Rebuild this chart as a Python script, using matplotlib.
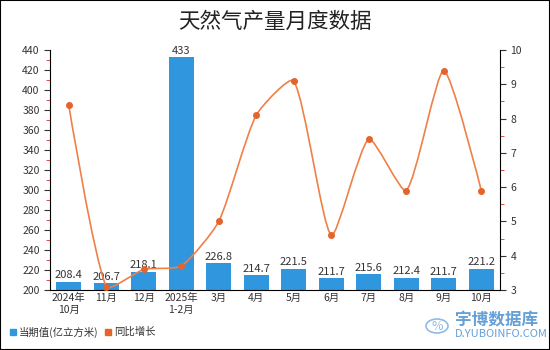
import numpy as np
from matplotlib import pyplot as plt
from matplotlib.path import Path
from matplotlib.patches import PathPatch, Rectangle
from matplotlib.ticker import MultipleLocator

plt.rcParams['font.family'] = ['Noto Sans CJK SC', 'DejaVu Sans']

months = ['2024年\n10月', '11月', '12月', '2025年\n1-2月', '3月', '4月',
          '5月', '6月', '7月', '8月', '9月', '10月']
output = [208.4, 206.7, 218.1, 433, 226.8, 214.7, 221.5, 211.7, 215.6, 212.4, 211.7, 221.2]
growth = [8.4, 3.1, 3.6, 3.7, 5.0, 8.1, 9.1, 4.6, 7.4, 5.9, 9.4, 5.9]

bar_color = '#3096de'
line_color = '#ee8048'
dot_color = '#e4642c'

def smooth_path(x, y, sx, sy, smooth=0.2):
    # bezier smoothing weighted by neighbour distances, worked out in pixel units
    pts = np.column_stack([np.asarray(x) * sx, np.asarray(y) * sy]).astype(float)
    n = len(pts)
    cin = [p.copy() for p in pts]
    cout = [p.copy() for p in pts]
    for i in range(1, n - 1):
        p, prev, nxt = pts[i], pts[i - 1], pts[i + 1]
        v = (nxt - prev) * smooth
        d0 = np.hypot(*(p - prev))
        d1 = np.hypot(*(p - nxt))
        cin[i] = p - v * d0 / (d0 + d1)
        cout[i] = p + v * d1 / (d0 + d1)
    verts = [pts[0]]
    codes = [Path.MOVETO]
    for i in range(n - 1):
        verts += [cout[i], cin[i + 1], pts[i + 1]]
        codes += [Path.CURVE4] * 3
    verts = np.array(verts) / [sx, sy]
    return Path(verts, codes)

fig = plt.figure(figsize=(5.5, 3.5), dpi=100)
ax = fig.add_axes([50/550, 60/350, 450/550, 240/350])
x = np.arange(len(months))

ax.bar(x, output, width=0.66, color=bar_color, zorder=2)
for xi, v in zip(x, output):
    lbl = '%g' % v if v != int(v) else '%d' % v
    ax.text(xi, v + 1.5, lbl, ha='center', va='bottom', fontsize=8, color='#333333', zorder=5)

ax.set_ylim(200, 440)
ax.set_xlim(-0.5, len(months) - 0.5)
ax.yaxis.set_major_locator(MultipleLocator(20))
ax.yaxis.set_minor_locator(MultipleLocator(10))
ax.tick_params(axis='y', which='major', length=4, labelsize=7.5, colors='#333333')
ax.tick_params(axis='y', which='minor', length=3, color='#e03030')
ax.tick_params(axis='x', length=0, labelsize=7.5, colors='#333333', pad=2)
ax.set_xticks(x)
ax.set_xticklabels(months, linespacing=1.3)
for s in ['top', 'right']:
    ax.spines[s].set_visible(False)

ax2 = ax.twinx()
ax2.set_ylim(3, 10)
ax2.yaxis.set_major_locator(MultipleLocator(1))
ax2.yaxis.set_minor_locator(MultipleLocator(0.5))
ax2.tick_params(axis='y', which='major', length=4, labelsize=7.5, colors='#333333')
ax2.tick_params(axis='y', which='minor', length=3, color='#e03030')
for s in ['top', 'left', 'bottom']:
    ax2.spines[s].set_visible(False)

# pixels per data unit on each axis
sx = 450.0 / len(months)
sy = 240.0 / 7
ax2.add_patch(PathPatch(smooth_path(x, growth, sx, sy), facecolor='none', edgecolor=line_color,
                        lw=1.2, zorder=3))
ax2.plot(x, growth, 'o', color=dot_color, ms=4, zorder=4)

fig.text(0.5, 0.937, '天然气产量月度数据', ha='center', va='center', fontsize=15.5, color='#222222')

# legend
fig.patches.append(Rectangle((10/550, 1 - 335/350), 6/550, 6/350, transform=fig.transFigure,
                             color=bar_color))
fig.text(19/550, 1 - 332/350, '当期值(亿立方米)', fontsize=7.5, va='center', color='#333333')
fig.patches.append(Rectangle((105/550, 1 - 335/350), 6/550, 6/350, transform=fig.transFigure,
                             color=dot_color))
fig.text(114/550, 1 - 332/350, '同比增长', fontsize=7.5, va='center', color='#333333')

# watermark
fig.text(455/550, 1 - 320/350, '宇博数据库', fontsize=12, va='center', color='#4a8fd0',
         fontweight='bold', alpha=0.85)
fig.text(455/550, 1 - 334/350, 'D.YUBOINFO.COM', fontsize=8, va='center', color='#4a8fd0', alpha=0.85)
fig.patches.append(plt.Circle((437/550, 1 - 326/350), 11/550, transform=fig.transFigure,
                              fill=False, ec='#8fbbe6', lw=1.2))
fig.text(437/550, 1 - 326/350, '%', fontsize=9, ha='center', va='center', color='#8fbbe6',
         style='italic')

fig.patches.append(Rectangle((0, 0), 1, 1, transform=fig.transFigure, fill=False,
                             ec='black', lw=1.5))

fig.savefig('out.png', dpi=100)
